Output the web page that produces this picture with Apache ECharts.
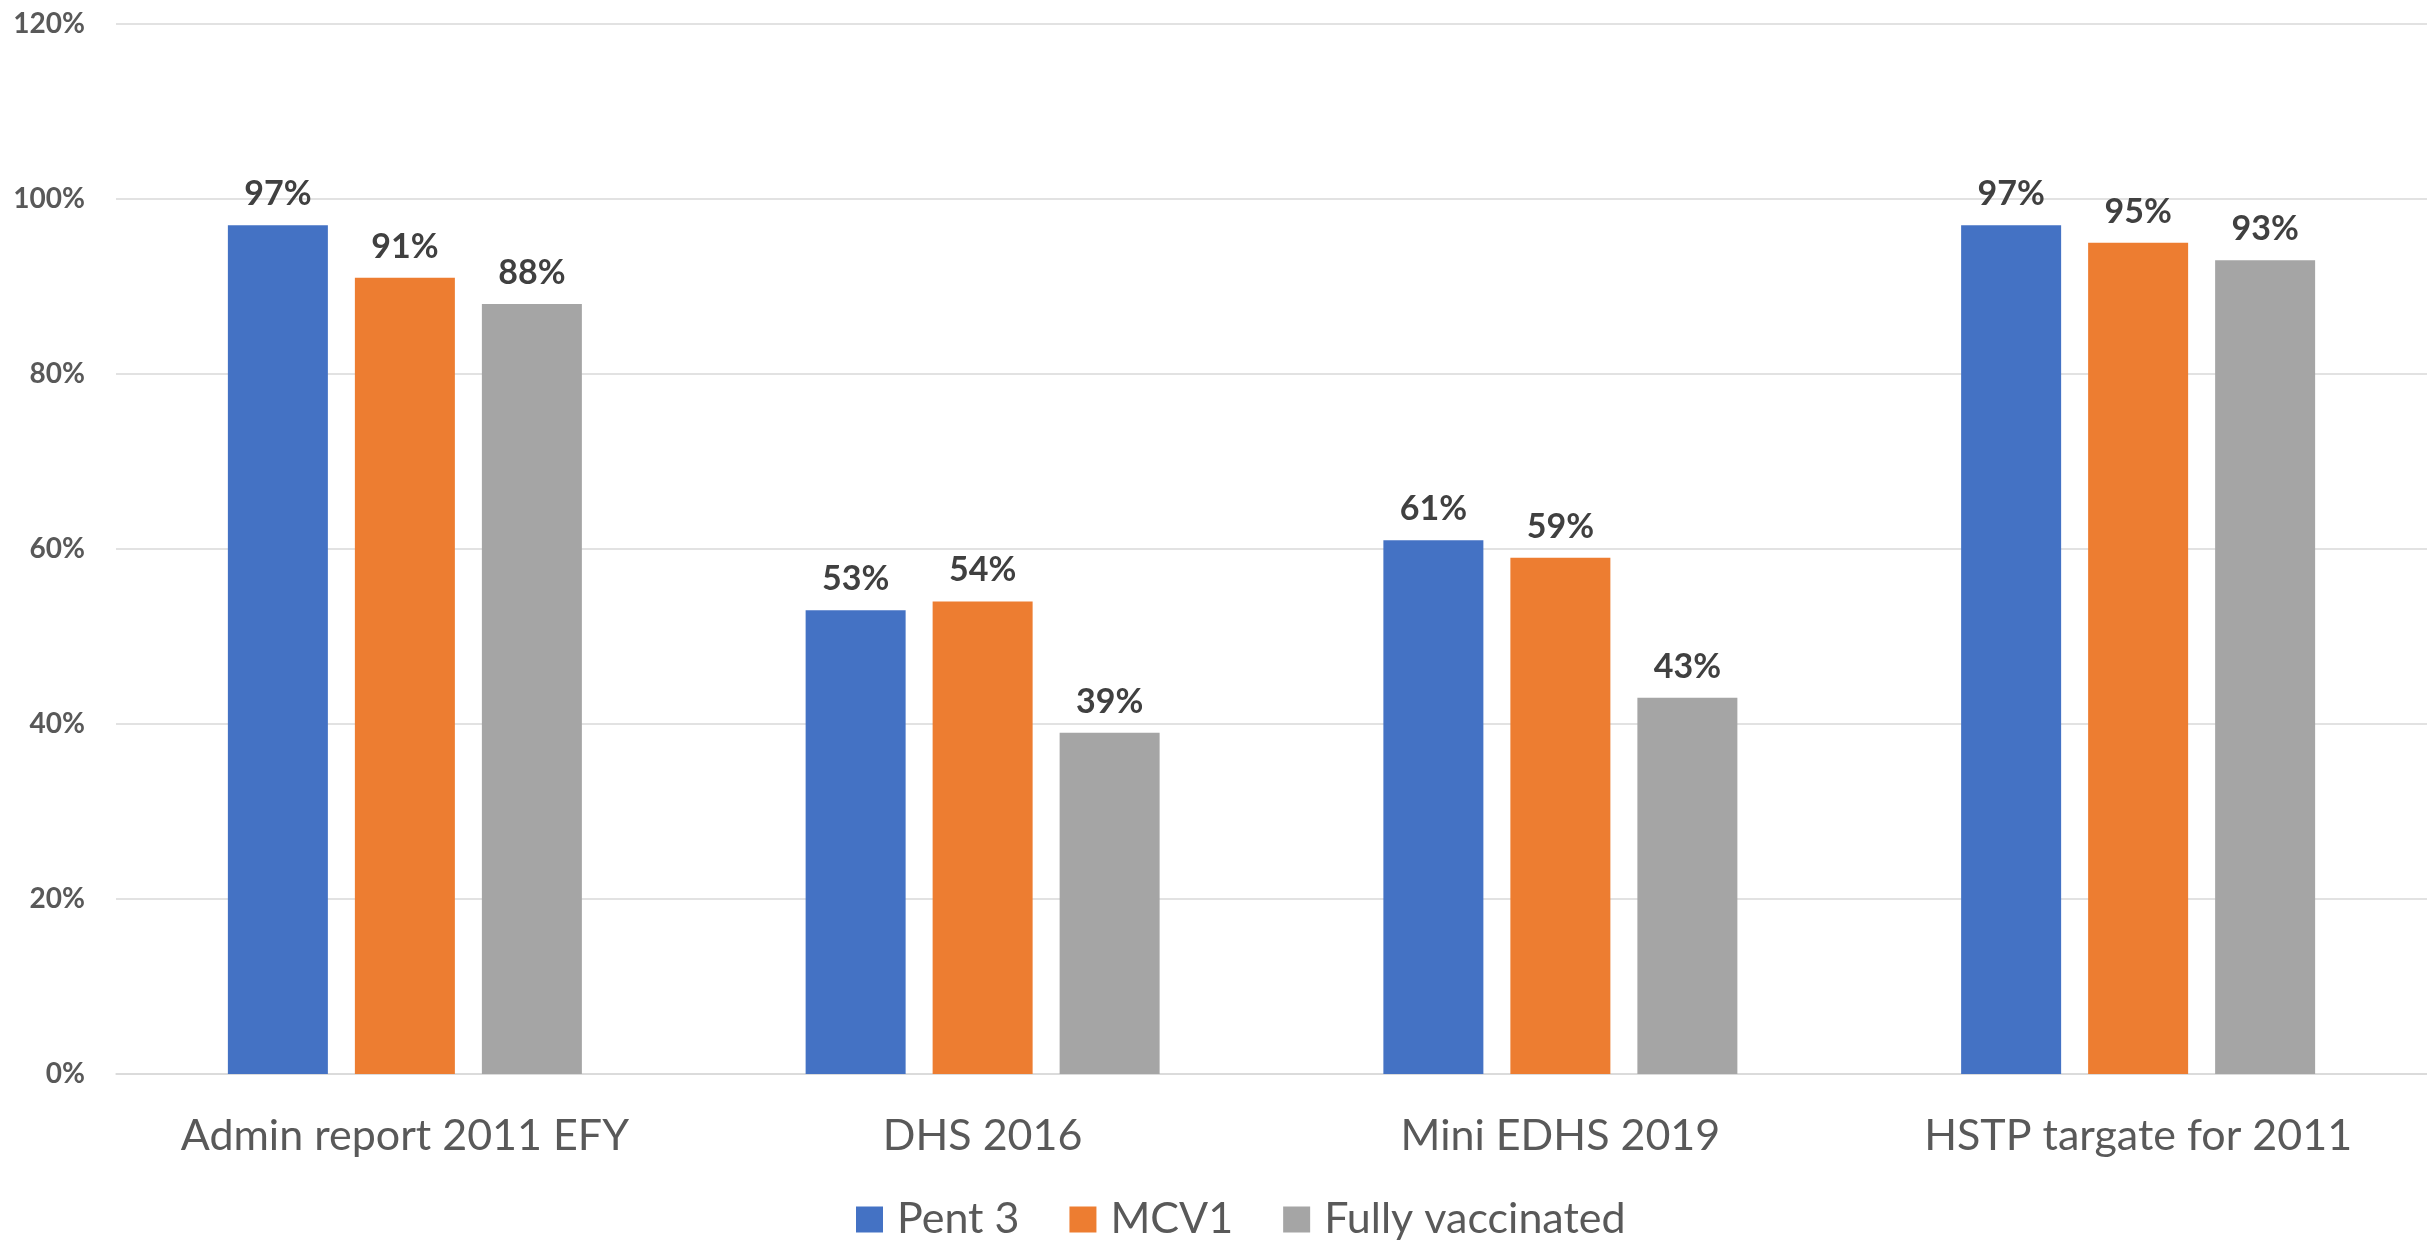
<!DOCTYPE html>
<html>
<head>
<meta charset="utf-8">
<script src="https://cdn.jsdelivr.net/npm/echarts@6/dist/echarts.min.js"></script>
<style>
html,body{margin:0;padding:0;background:#fff;}
#chart{width:2427px;height:1242px;}
</style>
</head>
<body>
<div id="chart"></div>
<script>
const categories = ["Admin report 2011 EFY", "DHS 2016", "Mini EDHS 2019", "HSTP targate for 2011"];
const seriesNames = ["Pent 3", "MCV1", "Fully vaccinated"];
const pent3 = [0.97, 0.53, 0.61, 0.97];
const mcv1 = [0.91, 0.54, 0.59, 0.95];
const fullyVaccinated = [0.88, 0.39, 0.43, 0.93];
const colors = ["#4472C4", "#ED7D31", "#A5A5A5"];

const chart = echarts.init(document.getElementById('chart'), null, {renderer: 'canvas'});
const pct = v => Math.round(v * 100) + '%';
function makeSeries(name, data, color) {
  return {
    name: name,
    type: 'bar',
    data: data,
    barWidth: 100,
    barGap: '27%',
    itemStyle: {color: color},
    label: {
      show: true,
      position: 'top',
      distance: 14,
      formatter: p => pct(p.value),
      fontFamily: 'Lato',
      fontWeight: 'bold',
      fontSize: 34,
      color: '#404040'
    }
  };
}
chart.setOption({
  animation: false,
  backgroundColor: '#ffffff',
  grid: {left: 116, right: 0, top: 24, bottom: 168, containLabel: false},
  legend: {
    data: seriesNames,
    left: 851,
    top: 1193,
    itemWidth: 27,
    itemHeight: 26,
    itemGap: 50,
    icon: 'rect',
    textStyle: {fontFamily: 'Lato', fontSize: 43, color: '#595959', padding: [0, 0, 0, 9]}
  },
  xAxis: {
    type: 'category',
    data: categories,
    axisLine: {show: true, lineStyle: {color: '#D9D9D9', width: 1.5}},
    axisTick: {show: false},
    axisLabel: {fontFamily: 'Lato', fontSize: 43, color: '#595959', margin: 41, lineHeight: 43, interval: 0}
  },
  yAxis: {
    type: 'value',
    min: 0,
    max: 1.2,
    interval: 0.2,
    axisLine: {show: false},
    axisTick: {show: false},
    splitLine: {lineStyle: {color: '#D9D9D9', width: 1.5}},
    axisLabel: {formatter: v => pct(v), fontFamily: 'Lato', fontWeight: 'bold', fontSize: 28, color: '#595959', margin: 31}
  },
  series: [
    makeSeries(seriesNames[0], pent3, colors[0]),
    makeSeries(seriesNames[1], mcv1, colors[1]),
    makeSeries(seriesNames[2], fullyVaccinated, colors[2])
  ]
});
</script>
</body>
</html>
